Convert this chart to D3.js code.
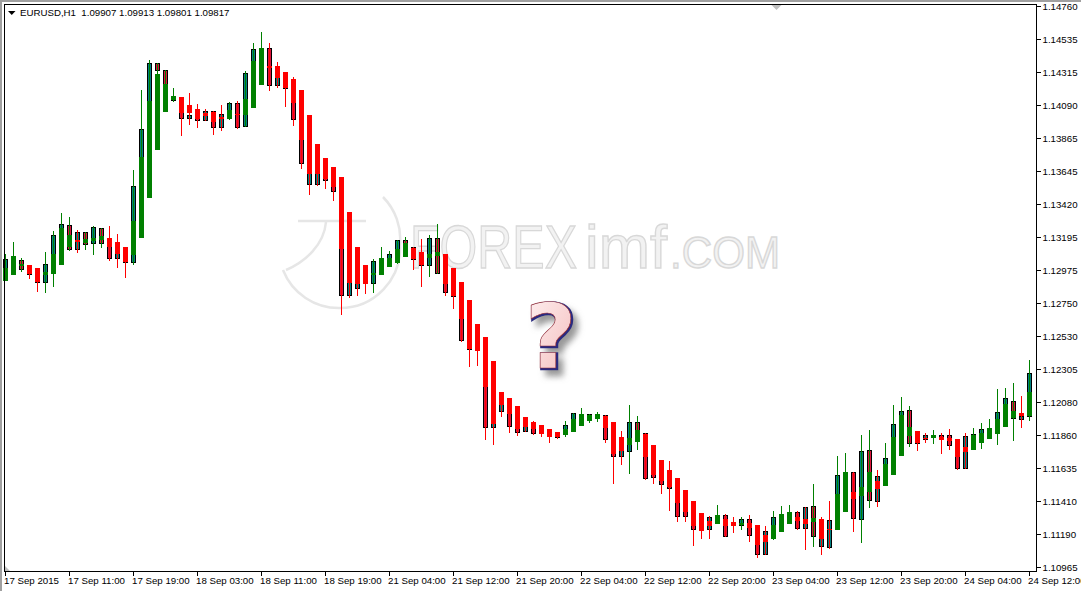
<!DOCTYPE html>
<html><head><meta charset="utf-8">
<script src="https://cdn.jsdelivr.net/npm/d3@7"></script>
<style>html,body{margin:0;padding:0;background:#fff}svg{display:block}.lbl{font-family:"Liberation Sans",sans-serif;font-size:9.7px;fill:#000}</style>
</head><body><svg id="c" width="1081" height="591"></svg>
<script>
// prices are given as the digits after "1." (13197 = 1.13197)
const high=[13082,13163,13055,13008,12988,13096,13238,13360,13333,13245,13231,13272,13258,13272,13218,13130,13651,14192,14395,14374,14327,14205,14144,14171,14097,14063,14050,14090,14111,14117,14320,14510,14584,14510,14381,14314,14280,14192,14023,13826,13732,13671,13603,13366,13130,13008,13048,13130,13103,13177,13197,13130,13184,13211,13285,13082,12988,12893,12771,12609,12521,12358,12149,12108,12054,11980,11953,11925,11898,11878,11953,12007,12040,12000,12013,11993,11946,11885,12061,11986,11871,11790,11689,11682,11567,11486,11411,11330,11310,11384,11323,11303,11303,11317,11249,11242,11344,11377,11384,11344,11371,11526,11303,11411,11716,11736,11607,11858,11892,11621,11804,12061,12115,12054,11885,11871,11892,11871,11898,11831,11871,11905,11939,11966,12169,12176,12210,12122,12365];
const low=[12900,12940,12960,12913,12825,12818,12859,13008,13103,13089,13109,13076,13123,13035,12988,12920,13008,13191,13461,13786,14043,14111,13881,13955,13935,13982,13887,13914,13989,13928,13941,14070,14226,14185,14205,14077,13948,13657,13481,13542,13522,13441,12670,12785,12798,12812,12818,12940,12994,13015,13062,12974,12859,12927,12947,12798,12710,12487,12318,12325,11824,11790,11980,11871,11851,11878,11858,11844,11804,11831,11844,11878,11919,11939,11946,11804,11526,11655,11594,11756,11553,11526,11459,11344,11269,11269,11107,11154,11154,11256,11168,11195,11215,11134,11026,11046,11148,11202,11256,11215,11080,11100,11046,11087,11215,11337,11202,11127,11364,11371,11513,11587,11716,11777,11750,11804,11797,11729,11756,11621,11628,11756,11763,11831,11790,11912,11817,11905,11953];
const open=[12906,12954,13042,12988,12974,12886,12947,13109,13278,13109,13231,13150,13258,13177,13048,13109,13021,13536,13921,14374,14327,14138,14124,13996,14050,13982,14050,13935,13996,14104,13941,14192,14232,14476,14219,14300,14259,14178,13549,13549,13718,13657,13590,12798,12846,12994,12879,12947,13008,13021,13177,13130,13082,13001,13191,13069,12974,12879,12758,12595,12507,11905,12013,12095,12040,11878,11932,11912,11885,11838,11858,11885,11925,11959,11973,11993,11932,11709,11743,11946,11871,11777,11675,11607,11553,11472,11398,11317,11215,11262,11317,11262,11242,11290,11235,11046,11154,11208,11262,11337,11222,11377,11100,11093,11222,11351,11607,11283,11756,11405,11526,11601,11722,12027,11871,11824,11858,11858,11858,11817,11628,11763,11810,11838,11871,11919,12088,11959,11980];
const close=[13048,13055,12974,12940,12886,13015,13211,13285,13109,13231,13143,13265,13150,13048,13150,13021,13542,13928,14374,14320,14124,14117,13996,14023,13982,14050,13935,14029,14104,13935,14307,14469,14462,14219,14341,14199,13989,13691,14009,13813,13576,13502,12798,13353,13116,12886,13035,13048,13082,13177,13076,13042,13001,13191,12947,12818,12791,12494,12433,12433,11905,12345,12135,11912,11871,11966,11865,11871,11851,11865,11925,12007,11986,12000,12000,11824,11709,11844,11946,11817,11560,11567,11520,11492,11303,11303,11215,11215,11303,11310,11168,11249,11290,11175,11046,11208,11303,11310,11330,11222,11371,11168,11290,11283,11587,11594,11290,11750,11411,11581,11702,11932,12020,11797,11797,11858,11838,11824,11783,11628,11851,11865,11898,11885,12013,12108,11966,11986,12277];
const haOpen=[12900,12940,13001,13008,12988,12940,12947,13008,13130,13177,13157,13171,13177,13191,13163,13130,13076,13191,13461,13786,14043,14124,14144,14090,14063,14036,14043,14009,13996,14029,14023,14070,14226,14354,14354,14314,14266,14192,14023,13826,13732,13671,13603,13366,13130,13008,12940,12940,12994,13021,13062,13123,13096,13055,13069,13082,12988,12893,12771,12609,12521,12358,12149,12108,12054,11980,11946,11925,11898,11878,11858,11878,11919,11953,11966,11986,11946,11844,11790,11810,11865,11790,11689,11621,11567,11486,11411,11330,11276,11256,11290,11269,11249,11262,11249,11181,11154,11202,11256,11303,11290,11269,11290,11222,11215,11337,11472,11445,11472,11547,11513,11587,11716,11851,11885,11838,11838,11844,11838,11831,11777,11756,11804,11831,11865,11912,11973,12007,11986];
const haClose=[12988,13069,13015,12947,12893,12960,13082,13258,13211,13163,13184,13191,13204,13130,13082,13028,13306,13739,14117,14300,14232,14151,14036,14036,13996,14016,13975,13996,14056,14023,14131,14388,14476,14341,14273,14205,14104,13854,13624,13624,13590,13536,13116,12886,12879,12879,12954,13055,13055,13116,13157,13048,13008,13082,13096,12879,12798,12643,12440,12426,12183,11932,12061,12000,11898,11912,11898,11865,11844,11844,11898,11966,12000,11993,12000,11905,11729,11750,11838,11892,11709,11587,11547,11506,11398,11337,11242,11208,11242,11317,11242,11242,11262,11229,11114,11134,11249,11323,11337,11276,11256,11296,11154,11215,11459,11607,11425,11506,11607,11492,11662,11844,11993,11912,11804,11831,11858,11824,11817,11709,11743,11858,11871,11905,11966,12068,12020,11986,12149];
const yTicks=["1.14760","1.14535","1.14315","1.14090","1.13865","1.13645","1.13420","1.13195","1.12975","1.12750","1.12530","1.12305","1.12080","1.11860","1.11635","1.11410","1.11190","1.10965"];
const xTicks=["17 Sep 2015","17 Sep 11:00","17 Sep 19:00","18 Sep 03:00","18 Sep 11:00","18 Sep 19:00","21 Sep 04:00","21 Sep 12:00","21 Sep 20:00","22 Sep 04:00","22 Sep 12:00","22 Sep 20:00","23 Sep 04:00","23 Sep 12:00","23 Sep 20:00","24 Sep 04:00","24 Sep 12:00"];
const title="EURUSD,H1\u00a0\u00a01.09907 1.09913 1.09801 1.09817";
const watermarkParts=["FOREX","imf",".COM"], mystery="?";

const GREEN="#008000",RED="#ff0000",TEAL="#008080",CRIMSON="#dc143c";
const svg=d3.select("#c");
const y=d3.scaleLinear().domain([14760,10965]).range([6,567]);
const x=d3.scaleLinear().domain([0,128]).range([5,1029]);
const Y=v=>Math.round(y(v));
const idx=d3.range(high.length);

// window frame
svg.append("rect").attr("x",0).attr("y",0).attr("width",2).attr("height",591).attr("fill","#a0a0a0");
svg.append("rect").attr("x",0).attr("y",0).attr("width",1081).attr("height",2).attr("fill","#a0a0a0");

// watermark
const defs=svg.append("defs");
const wm=svg.append("g").attr("fill","none").attr("stroke","#e6e6e6").attr("stroke-width",2.5);
wm.append("path").attr("d","M383,197 A60,60 0 0 1 400,245 A60,60 0 0 1 340,308 A60,60 0 0 1 283,270");
wm.append("path").attr("d","M298,221 H366 M326,222 C324,245 305,262 286,270");
const wt=svg.append("text").attr("y",268).style("font-family","'Liberation Sans',sans-serif")
  .attr("fill","#f2f2f2").attr("stroke","#d8d8d8").attr("stroke-width",1.4);
const wmSpec=[{x:410,len:167,fs:62},{x:585,len:82,fs:62},{x:670,len:110,fs:44}];
wt.selectAll("tspan").data(watermarkParts).join("tspan").text(d=>d)
  .attr("x",(d,i)=>wmSpec[i].x).attr("textLength",(d,i)=>wmSpec[i].len).attr("lengthAdjust","spacingAndGlyphs")
  .style("font-size",(d,i)=>wmSpec[i].fs+"px");

// question mark
const g=defs.append("linearGradient").attr("id","qg").attr("x1",0).attr("y1",0).attr("x2",1).attr("y2",1);
g.append("stop").attr("offset",0).attr("stop-color","#fff4f4");
g.append("stop").attr("offset",1).attr("stop-color","#f3b8b8");
const f=defs.append("filter").attr("id","qs").attr("x","-30%").attr("y","-30%").attr("width","170%").attr("height","170%");
f.append("feDropShadow").attr("dx",5).attr("dy",6).attr("stdDeviation",3).attr("flood-color","#777").attr("flood-opacity",0.75);
const qStyle=s=>s.attr("x",552).attr("y",369).attr("text-anchor","middle")
  .style("font-family","'DejaVu Sans',sans-serif").style("font-weight","bold").style("font-size","89px");
svg.append("text").text(mystery).call(qStyle).attr("fill","#7c1f2c").attr("stroke","#2a2a80").attr("stroke-width",2.4).attr("filter","url(#qs)");
svg.append("text").text(mystery).call(qStyle).attr("fill","url(#qg)").attr("stroke","#8f2a36").attr("stroke-width",.6).attr("dx",-1.2).attr("dy",-1.2).attr("aria-hidden","true");

// real candles
svg.append("g").selectAll("rect").data(idx).join("rect")
  .attr("x",i=>x(i)-1.5).attr("width",4)
  .attr("y",i=>Y(Math.max(open[i],close[i]))+.5)
  .attr("height",i=>Math.max(1,Y(Math.min(open[i],close[i]))-Y(Math.max(open[i],close[i]))-1))
  .attr("fill",i=>close[i]>=open[i]?TEAL:CRIMSON).attr("stroke","#000").attr("stroke-width",1);

// wicks
const haUp=i=>haClose[i]>=haOpen[i];
svg.append("g").selectAll("rect").data(idx).join("rect")
  .attr("x",i=>x(i)).attr("width",1)
  .attr("y",i=>Y(high[i])).attr("height",i=>Y(low[i])-Y(high[i]))
  .attr("fill",i=>haUp(i)?GREEN:RED);

// smoothed bodies
svg.append("g").selectAll("rect").data(idx).join("rect")
  .attr("x",i=>x(i)-2).attr("width",5)
  .attr("y",i=>Y(Math.max(haOpen[i],haClose[i])))
  .attr("height",i=>Math.max(1,Y(Math.min(haOpen[i],haClose[i]))-Y(Math.max(haOpen[i],haClose[i]))))
  .attr("fill",i=>haUp(i)?GREEN:RED);

// frame lines
svg.append("rect").attr("x",4.5).attr("y",4.5).attr("width",1032).attr("height",567).attr("fill","none").attr("stroke","#000");

// price axis
const yT=svg.append("g").selectAll("g").data(yTicks).join("g");
yT.append("rect").attr("x",1037).attr("width",4).attr("height",1).attr("y",(d,i)=>6+33*i);
yT.append("text").attr("class","lbl").attr("x",1042.5).attr("y",(d,i)=>6+33*i+4).text(d=>d);

// time axis
const xT=svg.append("g").selectAll("g").data(xTicks).join("g");
xT.append("rect").attr("width",1).attr("height",4).attr("y",572).attr("x",(d,i)=>x(i*8));
xT.append("text").attr("class","lbl").attr("y",584).attr("x",(d,i)=>x(i*8)-1).text(d=>d);

// title and markers
svg.append("path").attr("d",d3.line()([[8,11],[15.5,11],[11.75,15]])).attr("fill","#000");
svg.append("text").attr("class","lbl").attr("x",20).attr("y",16).text(title);
svg.append("path").attr("d",d3.line()([[771.5,5],[781.5,5],[776.5,10]])).attr("fill","#c0c0c0");
svg.append("path").attr("d",d3.line()([[5,566],[5,571],[10,571]])).attr("fill","#c0c0c0");
</script></body></html>
